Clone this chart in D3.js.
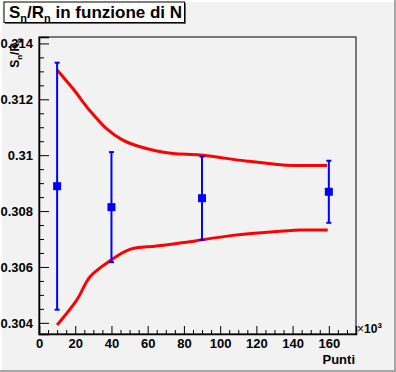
<!DOCTYPE html>
<html>
<head>
<meta charset="utf-8">
<script src="https://cdn.jsdelivr.net/npm/d3@7"></script>
<style>
  body { margin: 0; background: #f2f2f2; }
  svg { display: block; font-family: "Liberation Sans", Arial, sans-serif; }
</style>
</head>
<body>
<svg width="396" height="372"></svg>
<script>
// points (x in units of 10^3)
const pointX = [10, 40, 90, 160];
const pointY = [0.30889, 0.30814, 0.30846, 0.30869];
const pointErr = [0.00442, 0.00197, 0.00149, 0.00111];

// red envelope curves
const upperX = [10, 19, 28, 37.4, 46, 55.8, 65, 74.1, 88.9, 99.9, 107, 116, 125.6, 134.6, 145, 159];
const upperY = [0.31305, 0.31236, 0.31160, 0.31094, 0.31055, 0.31030, 0.31015, 0.31006, 0.31001, 0.30992, 0.30985, 0.30978, 0.30971, 0.30965, 0.30963, 0.30963];
const lowerX = [10, 20.8, 28.2, 39.2, 50.2, 65, 83.3, 88.9, 107, 125.6, 144, 159.4];
const lowerY = [0.30392, 0.30481, 0.30565, 0.30622, 0.30663, 0.30675, 0.30690, 0.30696, 0.30713, 0.30724, 0.30732, 0.30732];

const xTicks = [0, 20, 40, 60, 80, 100, 120, 140, 160];
const yTicks = [0.304, 0.306, 0.308, 0.31, 0.312, 0.314];

const svg = d3.select('svg');
const width = +svg.attr('width');
const height = +svg.attr('height');

const margin = {left: 39, top: 37, right: 40, bottom: 38};
const innerWidth = width - margin.left - margin.right;
const innerHeight = height - margin.top - margin.bottom;

const xScale = d3.scaleLinear().domain([0, 175]).range([margin.left, margin.left + innerWidth]);
const yScale = d3.scaleLinear().domain([0.30360, 0.31423]).range([margin.top + innerHeight, margin.top]);

// canvas background with bevel
svg.append('rect').attr('width', width).attr('height', height).attr('fill', '#f2f2f2');
svg.append('rect').attr('x', width - 2).attr('y', 0).attr('width', 2).attr('height', height).attr('fill', '#a6a6a6');
svg.append('rect').attr('x', 0).attr('y', height - 2).attr('width', width).attr('height', 2).attr('fill', '#a6a6a6');
svg.append('rect').attr('x', 0).attr('y', 0).attr('width', width - 2).attr('height', 2).attr('fill', '#ffffff');
svg.append('rect').attr('x', 0).attr('y', 0).attr('width', 2).attr('height', height - 2).attr('fill', '#ffffff');

// frame
svg.append('rect')
  .attr('x', margin.left).attr('y', margin.top)
  .attr('width', innerWidth).attr('height', innerHeight)
  .attr('fill', 'none').attr('stroke', '#000').attr('stroke-width', 1);

// x axis
const xAxis = d3.axisBottom(xScale).tickValues(xTicks).tickSize(-8).tickPadding(4).tickFormat(d3.format('d'));
const gx = svg.append('g').attr('transform', `translate(0,${margin.top + innerHeight})`).call(xAxis);
gx.attr('font-family', null).attr('font-size', null);
gx.select('.domain').attr('stroke-width', 1.5);
gx.selectAll('text').attr('dy', null).attr('y', 13.5)
  .attr('font-size', 13).attr('font-weight', 'bold').attr('fill', '#000');
const gxMinor = svg.append('g').attr('transform', `translate(0,${margin.top + innerHeight})`)
  .call(d3.axisBottom(xScale).tickValues(d3.range(0, 176, 5).filter(v => v % 20 !== 0)).tickSize(-4).tickFormat(''));
gxMinor.select('.domain').remove();
gxMinor.selectAll('text').remove();

// y axis
const yAxis = d3.axisLeft(yScale).tickValues(yTicks).tickSize(-10).tickPadding(6).tickFormat(d => d3.format('')(+d.toFixed(3)));
const gy = svg.append('g').attr('transform', `translate(${margin.left},0)`).call(yAxis);
gy.attr('font-family', null).attr('font-size', null);
gy.select('.domain').attr('stroke-width', 1.5);
gy.selectAll('text').attr('dy', null).attr('y', 4.5)
  .attr('font-size', 13).attr('font-weight', 'bold').attr('fill', '#000');
const minorY = d3.range(0, 22).map(i => 0.3035 + i * 0.0005).filter(v => v >= 0.3036 && v <= 0.3142 && Math.abs(Math.round(v * 500) - v * 500) > 0.01);
const gyMinor = svg.append('g').attr('transform', `translate(${margin.left},0)`)
  .call(d3.axisLeft(yScale).tickValues(minorY).tickSize(-5).tickFormat(''));
gyMinor.select('.domain').remove();
gyMinor.selectAll('text').remove();

// red curves
const line = d3.line().x(d => xScale(d[0])).y(d => yScale(d[1])).curve(d3.curveCatmullRom);
svg.append('path').datum(upperX.map((x, i) => [x, upperY[i]]))
  .attr('d', line).attr('fill', 'none').attr('stroke', '#ff0000').attr('stroke-width', 3);
svg.append('path').datum(lowerX.map((x, i) => [x, lowerY[i]]))
  .attr('d', line).attr('fill', 'none').attr('stroke', '#ff0000').attr('stroke-width', 3);

// blue error bars
const pts = pointX.map((x, i) => ({x, y: pointY[i], e: pointErr[i]}));
const gp = svg.append('g');
gp.selectAll('line.bar').data(pts).enter().append('line')
  .attr('x1', d => xScale(d.x)).attr('x2', d => xScale(d.x))
  .attr('y1', d => yScale(d.y + d.e)).attr('y2', d => yScale(d.y - d.e))
  .attr('stroke', '#0000ff').attr('stroke-width', 2);
[1, -1].forEach(s => {
  gp.selectAll(null).data(pts).enter().append('line')
    .attr('x1', d => xScale(d.x) - 2.5).attr('x2', d => xScale(d.x) + 2.5)
    .attr('y1', d => yScale(d.y + s * d.e)).attr('y2', d => yScale(d.y + s * d.e))
    .attr('stroke', '#0000ff').attr('stroke-width', 2);
});
gp.selectAll('rect').data(pts).enter().append('rect')
  .attr('x', d => xScale(d.x) - 4).attr('y', d => yScale(d.y) - 4)
  .attr('width', 8).attr('height', 8).attr('fill', '#0000ff');

// axis titles
svg.append('text').attr('x', 355).attr('y', 364).attr('text-anchor', 'end')
  .attr('font-size', 13).attr('font-weight', 'bold').text('Punti');
const exp = svg.append('text').attr('x', 357).attr('y', 333).attr('font-size', 12).attr('font-weight', 'bold');
exp.append('tspan').attr('font-weight', 'normal').text('\u00d7');
exp.append('tspan').text('10');
exp.append('tspan').attr('dy', -5).attr('font-size', 8).text('3');

const yt = svg.append('text').attr('transform', 'translate(19,38) rotate(-90)')
  .attr('text-anchor', 'end').attr('font-size', 12).attr('font-weight', 'bold');
yt.append('tspan').text('S');
yt.append('tspan').attr('dy', 3).attr('font-size', 8).text('n');
yt.append('tspan').attr('dy', -3).text('/R');
yt.append('tspan').attr('dy', 3).attr('font-size', 8).text('n');

// title box
svg.append('rect').attr('x', 5).attr('y', 3).attr('width', 181).attr('height', 21).attr('fill', '#666');
svg.append('rect').attr('x', 4).attr('y', 2).attr('width', 180.5).attr('height', 20.5)
  .attr('fill', '#fff').attr('stroke', '#000').attr('stroke-width', 1);
const tt = svg.append('text').attr('x', 9).attr('y', 18).attr('font-size', 17).attr('font-weight', 'bold');
tt.append('tspan').text('S');
tt.append('tspan').attr('dy', 4).attr('font-size', 11).text('n');
tt.append('tspan').attr('dy', -4).text('/R');
tt.append('tspan').attr('dy', 4).attr('font-size', 11).text('n');
tt.append('tspan').attr('dy', -4).text(' in funzione di N');
</script>
</body>
</html>
